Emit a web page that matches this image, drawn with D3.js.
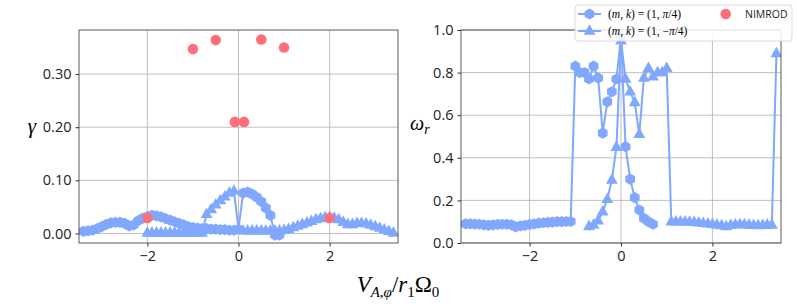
<!DOCTYPE html>
<html>
<head>
<meta charset="utf-8">
<script src="https://cdn.jsdelivr.net/npm/d3@7"></script>
<style>
  body { margin: 0; background: #fff; }
  text { font-family: "Open Sans", sans-serif; }
  .math { font-family: "Liberation Serif", "DejaVu Serif", serif; }
</style>
</head>
<body>
<div id="chart"></div>
<script>
// growth rate gamma, series (m,k) = (1, pi/4)
const gammaHexX = [-3.4,-3.3,-3.2,-3.1,-3.0,-2.9,-2.8,-2.7,-2.6,-2.5,-2.4,-2.3,-2.2,-2.1,-2.0,-1.9,-1.8,-1.7,-1.6,-1.5,-1.4,-1.3,-1.2,-1.1,-1.0,-0.9,-0.8,-0.7,-0.6,-0.5,-0.4,-0.3,-0.2,-0.1,0.0,0.1,0.2,0.3,0.4,0.5,0.6,0.7,0.8,0.9]
const gammaHexY = [0.004,0.005,0.006,0.009,0.013,0.017,0.020,0.021,0.021,0.019,0.014,0.016,0.024,0.029,0.032,0.034,0.033,0.031,0.028,0.025,0.022,0.019,0.016,0.013,0.011,0.010,0.009,0.009,0.008,0.008,0.007,0.007,0.006,0.006,0.008,0.076,0.078,0.074,0.068,0.060,0.048,0.034,-0.003,-0.003]
// growth rate gamma, series (m,k) = (1, -pi/4)
const gammaTriX = [-2.0,-1.9,-1.8,-1.7,-1.6,-1.5,-1.4,-1.3,-1.2,-1.1,-1.0,-0.9,-0.8,-0.7,-0.6,-0.5,-0.4,-0.3,-0.2,-0.1,0.0,0.1,0.2,0.3,0.4,0.5,0.6,0.7,0.8,0.9,1.0,1.1,1.2,1.3,1.4,1.5,1.6,1.7,1.8,1.9,2.0,2.1,2.2,2.3,2.4,2.5,2.6,2.7,2.8,2.9,3.0,3.1,3.2,3.3,3.4]
const gammaTriY = [0.001,0.001,0.001,0.001,0.001,0.001,0.001,0.001,0.001,0.001,0.001,0.001,0.001,0.036,0.045,0.054,0.062,0.069,0.076,0.080,0.008,0.005,0.005,0.005,0.005,0.005,0.005,0.005,0.005,0.005,0.006,0.008,0.011,0.014,0.017,0.020,0.023,0.026,0.028,0.030,0.031,0.029,0.026,0.021,0.017,0.017,0.019,0.019,0.018,0.016,0.013,0.010,0.007,0.004,0.001]
// real frequency omega_r
const omegaHexX = [-3.4,-3.3,-3.2,-3.1,-3.0,-2.9,-2.8,-2.7,-2.6,-2.5,-2.4,-2.3,-2.2,-2.1,-2.0,-1.9,-1.8,-1.7,-1.6,-1.5,-1.4,-1.3,-1.2,-1.1,-1.0,-0.9,-0.8,-0.7,-0.6,-0.5,-0.4,-0.3,-0.2,-0.1,0.0,0.1,0.2,0.3,0.4,0.5,0.6,0.7]
const omegaHexY = [0.090,0.090,0.089,0.088,0.085,0.083,0.085,0.087,0.088,0.088,0.085,0.076,0.080,0.083,0.087,0.090,0.093,0.095,0.097,0.098,0.100,0.100,0.101,0.101,0.830,0.800,0.800,0.770,0.830,0.775,0.516,0.663,0.710,0.770,0.970,0.452,0.300,0.213,0.155,0.116,0.100,0.088]
const omegaTriX = [-0.7,-0.6,-0.5,-0.4,-0.3,-0.2,-0.1,0.0,0.1,0.2,0.3,0.4,0.5,0.6,0.7,0.8,0.9,1.0,1.1,1.2,1.3,1.4,1.5,1.6,1.7,1.8,1.9,2.0,2.1,2.2,2.3,2.4,2.5,2.6,2.7,2.8,2.9,3.0,3.1,3.2,3.3,3.4]
const omegaTriY = [0.078,0.085,0.105,0.147,0.205,0.296,0.450,0.950,0.770,0.710,0.660,0.510,0.775,0.820,0.780,0.800,0.800,0.820,0.100,0.100,0.100,0.100,0.098,0.097,0.095,0.093,0.090,0.088,0.085,0.082,0.077,0.083,0.086,0.087,0.087,0.085,0.083,0.082,0.083,0.085,0.085,0.890]
// NIMROD comparison points
const nimrodX = [-2.0,-1.0,-0.5,-0.08,0.12,0.5,1.0,2.0]
const nimrodY = [0.029,0.347,0.364,0.210,0.210,0.365,0.350,0.029]

const xTicks = [-2, 0, 2]
const gammaTicks = [0.0, 0.1, 0.2, 0.3]
const omegaTicks = [0.0, 0.2, 0.4, 0.6, 0.8, 1.0]

const blue = "#80a8ff"
const red = "#fe6f7b"

const svg = d3.select("#chart").append("svg")
  .attr("width", 797)
  .attr("height", 304)

function hexPath(r) {
  const pts = d3.range(6).map(i => {
    const a = Math.PI / 2 + i * Math.PI / 3
    return [r * Math.cos(a), -r * Math.sin(a)]
  })
  return "M" + pts.map(p => p.join(",")).join("L") + "Z"
}
function triPath(r) {
  return `M0,${-r}L${r * 0.87},${r * 0.55}L${-r * 0.87},${r * 0.55}Z`
}
const HEX = hexPath(5.6)
const TRI = triPath(6.8)

function panel(id, left, right, yDomain, ticks, fmt) {
  const x = d3.scaleLinear().domain([-3.5, 3.5]).range([left, right])
  const y = d3.scaleLinear().domain(yDomain).range([243, 30])
  const g = svg.append("g")

  svg.append("clipPath").attr("id", id)
    .append("rect").attr("x", left).attr("y", 30).attr("width", right - left).attr("height", 213)

  // grid
  g.append("g").selectAll("line").data(xTicks).join("line")
    .attr("x1", d => x(d)).attr("x2", d => x(d)).attr("y1", 30).attr("y2", 243)
    .attr("stroke", "#b0b0b0").attr("stroke-width", 0.8)
  g.append("g").selectAll("line").data(ticks).join("line")
    .attr("x1", left).attr("x2", right).attr("y1", d => y(d)).attr("y2", d => y(d))
    .attr("stroke", "#b0b0b0").attr("stroke-width", 0.8)

  // axes
  const ax = g.append("g").attr("transform", "translate(0,243)")
    .call(d3.axisBottom(x).tickValues(xTicks).tickSize(3.5).tickPadding(4).tickFormat(d => d < 0 ? "\u2212" + Math.abs(d) : d))
  const ay = g.append("g").attr("transform", `translate(${left},0)`)
    .call(d3.axisLeft(y).tickValues(ticks).tickSize(3.5).tickPadding(4).tickFormat(fmt))
  for (const a of [ax, ay]) {
    a.select(".domain").remove()
    a.selectAll("line").attr("stroke", "#333")
    a.selectAll("text").attr("font-family", "'Open Sans', sans-serif").attr("font-size", 14.5).attr("fill", "#222")
  }

  const plot = svg.append("g").attr("clip-path", `url(#${id})`)
  return { x, y, g, plot, left, right }
}

function series(p, xs, ys, shape) {
  const pts = xs.map((d, i) => [d, ys[i]])
  p.plot.append("path").datum(pts)
    .attr("d", d3.line().x(d => p.x(d[0])).y(d => p.y(d[1])))
    .attr("fill", "none").attr("stroke", blue).attr("stroke-width", 2)
  p.plot.append("g").selectAll("path").data(pts).join("path")
    .attr("d", shape)
    .attr("transform", d => `translate(${p.x(d[0])},${p.y(d[1])})`)
    .attr("fill", blue)
}

function frame(p) {
  svg.append("rect").attr("x", p.left).attr("y", 30)
    .attr("width", p.right - p.left).attr("height", 213)
    .attr("fill", "none").attr("stroke", "#333").attr("stroke-width", 0.8)
}

// left: growth rate
const pg = panel("clipG", 79, 398, [-0.018, 0.383], gammaTicks, d3.format(".2f"))
series(pg, gammaHexX, gammaHexY, HEX)
series(pg, gammaTriX, gammaTriY, TRI)
pg.plot.append("g").selectAll("circle").data(nimrodX).join("circle")
  .attr("cx", d => pg.x(d)).attr("cy", (d, i) => pg.y(nimrodY[i])).attr("r", 5.3)
  .attr("fill", red)
frame(pg)

// right: real frequency
const po = panel("clipO", 461, 781, [0, 1], omegaTicks, d3.format(".1f"))
series(po, omegaHexX, omegaHexY, HEX)
series(po, omegaTriX, omegaTriY, TRI)
frame(po)

// axis labels
svg.append("text").attr("class", "math").attr("x", 32).attr("y", 133)
  .attr("text-anchor", "middle").attr("font-size", 21).attr("font-style", "italic").text("\u03b3")
const wl = svg.append("text").attr("class", "math").attr("x", 410).attr("y", 130)
  .attr("font-size", 20)
wl.append("tspan").attr("font-style", "italic").text("\u03c9")
wl.append("tspan").attr("font-style", "italic").attr("font-size", 14).attr("dy", 4).text("r")

const xl = svg.append("text").attr("class", "math").attr("x", 398).attr("y", 292)
  .attr("text-anchor", "middle").attr("font-size", 23)
xl.append("tspan").attr("font-style", "italic").text("V")
xl.append("tspan").attr("font-style", "italic").attr("font-size", 15).attr("dy", 5).text("A,\u03c6")
xl.append("tspan").attr("dy", -5).text("/")
xl.append("tspan").attr("font-style", "italic").text("r")
xl.append("tspan").attr("font-size", 15).attr("dy", 5).text("1")
xl.append("tspan").attr("dy", -5).text("\u03a9")
xl.append("tspan").attr("font-size", 15).attr("dy", 5).text("0")

// legend
const lg = svg.append("g")
lg.append("rect").attr("x", 575).attr("y", 5).attr("width", 217).attr("height", 36).attr("rx", 3)
  .attr("fill", "#fff").attr("fill-opacity", 0.85).attr("stroke", "#d0d0d0").attr("stroke-width", 0.8)
const legendRows = [
  { y: 14, shape: HEX, label: ["(", "m", ", ", "k", ") = (1, ", "\u03c0", "/4)"] },
  { y: 31, shape: TRI, label: ["(", "m", ", ", "k", ") = (1, \u2212", "\u03c0", "/4)"] }
]
legendRows.forEach(r => {
  lg.append("line").attr("x1", 578).attr("x2", 601).attr("y1", r.y).attr("y2", r.y)
    .attr("stroke", blue).attr("stroke-width", 2)
  lg.append("path").attr("d", r.shape).attr("transform", `translate(589.5,${r.y})`).attr("fill", blue)
  const t = lg.append("text").attr("class", "math").attr("x", 608).attr("y", r.y + 4).attr("font-size", 11.5)
  r.label.forEach((s, i) => t.append("tspan").attr("font-style", i % 2 ? "italic" : "normal").text(s))
})
lg.append("circle").attr("cx", 725.7).attr("cy", 14).attr("r", 5.3).attr("fill", red)
lg.append("text").attr("x", 745).attr("y", 18).attr("font-size", 10.5).attr("fill", "#222").text("NIMROD")
</script>
</body>
</html>
